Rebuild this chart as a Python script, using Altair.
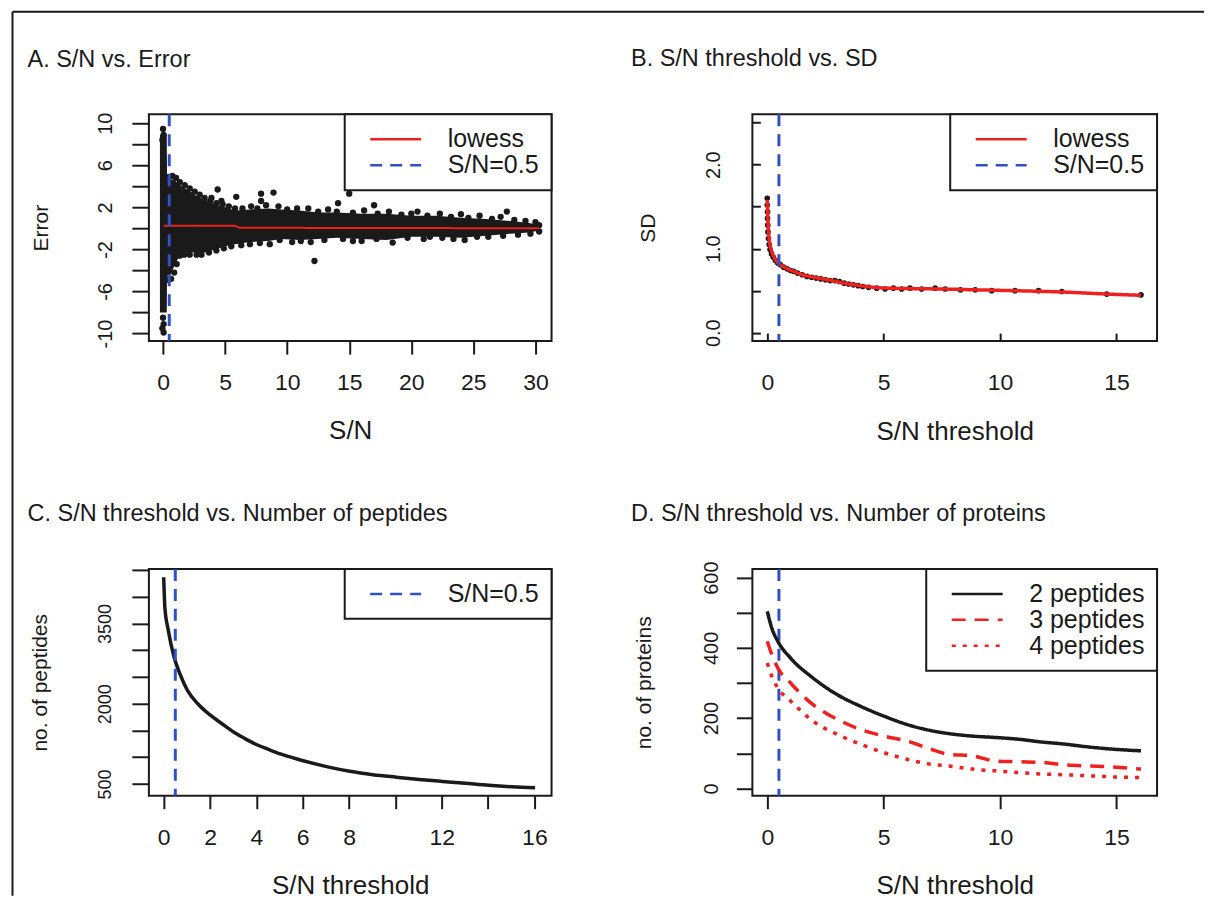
import altair as alt
import pandas as pd

# ---------------- values ----------------
SN_CUT = 0.5

# Panel A: S/N vs. Error  (dense core of the cloud as an envelope + individual dots)
A_CLOUD_X = [-0.25, 0.3, 0.32, 0.6, 0.9, 1.2, 1.6, 2.2, 2.8, 3.4, 4.2, 5.0, 5.8, 7.0, 8.5, 9.5,
             11.0, 12.5, 14.0, 16.0, 18.0, 20.0, 22.0, 24.0, 26.0, 28.0, 29.5, 30.3]
A_CLOUD_HI = [8.9, 8.9, 4.6, 4.7, 4.6, 4.3, 3.9, 3.5, 3.0, 2.7, 2.3, 2.0, 1.7, 1.8, 1.9, 1.8,
              1.7, 1.5, 1.5, 1.4, 1.4, 1.2, 1.2, 1.0, 0.9, 0.7, 0.5, 0.3]
A_CLOUD_LO = [-8.0, -8.0, -4.6, -4.4, -3.6, -2.9, -2.3, -2.3, -2.3, -2.3, -2.0, -1.7, -1.5, -1.3, -1.2, -1.0,
              -1.1, -1.0, -0.9, -1.0, -1.1, -0.8, -0.8, -0.9, -0.7, -0.5, -0.4, -0.2]
A_POINTS = [
    (0.0, 9.45), (0.05, 8.9), (-0.05, 8.4), (0.0, -8.5), (0.05, -9.1), (-0.05, -9.5), (0.05, -9.9),
    (0.45, 4.9), (0.75, 5.0), (1.05, 4.8), (1.35, 4.4), (1.75, 4.1), (2.15, 3.8), (2.55, 3.5),
    (2.95, 3.2), (3.35, 2.9), (3.8, 2.6), (4.3, 2.4), (4.8, 2.3), (5.3, 2.1), (5.8, 1.9), (6.4, 1.9),
    (7.1, 2.1), (7.6, 1.9), (8.3, 2.2), (9.3, 2.1), (10.0, 1.8), (10.8, 1.9), (11.7, 1.9), (12.5, 1.6),
    (13.3, 1.8), (14.0, 1.6), (15.3, 1.5), (16.2, 1.7), (17.3, 1.4), (18.2, 1.6), (19.2, 1.3),
    (20.0, 1.4), (21.3, 1.2), (22.3, 1.4), (23.2, 1.1), (24.6, 1.0), (25.5, 1.2), (26.5, 0.9),
    (27.2, 1.1), (28.3, 0.8), (29.2, 0.7), (30.0, 0.6), (30.3, 0.3),
    (3.9, 2.9), (4.4, 3.7), (4.7, 2.6), (5.9, 3.0), (7.9, 3.3), (7.9, 2.6), (8.9, 3.4),
    (14.1, 2.4), (15.0, 3.3), (17.0, 2.2), (20.5, 1.6), (24.0, 1.35), (27.7, 1.6),
    (0.4, -4.9), (0.65, -4.8), (0.9, -4.2), (1.1, -3.4), (1.35, -2.6), (1.7, -2.5), (2.15, -2.5),
    (2.7, -2.5), (3.1, -2.5), (3.7, -2.3), (4.3, -2.1), (4.9, -1.9), (5.5, -1.7), (6.3, -1.6),
    (7.0, -1.5), (7.8, -1.4), (8.6, -1.5), (9.4, -1.1), (10.4, -1.3), (11.1, -1.2), (11.9, -1.3),
    (13.0, -1.1), (14.5, -1.0), (15.3, -1.2), (16.0, -1.2), (17.2, -1.0), (18.5, -1.35),
    (19.7, -0.9), (21.0, -1.0), (21.5, -0.8), (22.5, -0.9), (23.4, -1.0), (24.3, -1.1),
    (25.3, -0.8), (26.2, -0.8), (27.4, -0.7), (28.6, -0.6), (29.6, -0.5), (30.3, -0.3),
    (12.2, -3.1),
]
A_LOWESS_X = [0.05, 2.0, 4.0, 5.8, 6.2, 10.0, 15.0, 20.0, 25.0, 30.3]
A_LOWESS_Y = [0.25, 0.25, 0.25, 0.24, 0.05, 0.05, 0.04, 0.03, 0.02, 0.0]

# Panel B: S/N threshold vs. SD
B_PTS_X = [0.0, 0.0, 0.01, 0.01, 0.02, 0.03, 0.05, 0.08, 0.12, 0.18, 0.25, 0.35, 0.45, 0.56, 0.7,
           0.85, 1.0, 1.13, 1.3, 1.5, 1.7, 1.9, 2.1, 2.3, 2.5, 2.7, 2.9, 3.1, 3.3, 3.5, 3.7, 3.9,
           4.1, 4.35, 4.7, 5.06, 5.42, 5.77, 6.13, 6.63, 7.21, 7.64, 8.3, 8.93, 9.64, 10.64,
           11.65, 12.65, 14.58, 16.05]
B_PTS_SD = [1.60, 1.52, 1.44, 1.36, 1.28, 1.20, 1.12, 1.05, 0.99, 0.94, 0.90, 0.86, 0.83, 0.81, 0.78,
            0.76, 0.74, 0.73, 0.71, 0.69, 0.67, 0.66, 0.65, 0.64, 0.63, 0.62, 0.62, 0.61, 0.59, 0.58,
            0.57, 0.56, 0.55, 0.54, 0.53, 0.52, 0.53, 0.52, 0.53, 0.52, 0.53, 0.52, 0.51, 0.51,
            0.50, 0.50, 0.50, 0.49, 0.46, 0.45]
B_LOW_X = [0.0, 0.02, 0.05, 0.1, 0.2, 0.35, 0.56, 0.8, 1.13, 1.5, 2.0, 2.6, 3.3, 4.0, 4.8, 6.0,
           7.5, 9.0, 10.6, 12.6, 14.6, 16.05]
B_LOW_SD = [1.58, 1.40, 1.22, 1.08, 0.96, 0.87, 0.81, 0.77, 0.73, 0.69, 0.66, 0.63, 0.59, 0.56,
            0.535, 0.525, 0.52, 0.51, 0.50, 0.485, 0.46, 0.445]

# Panel C: S/N threshold vs. number of peptides
C_X = [0.0, 0.05, 0.2, 0.45, 0.7, 1.03, 1.5, 2.0, 2.5, 3.03, 3.5, 3.95, 4.5, 5.03, 5.9, 7.03,
       8.03, 9.03, 10.03, 11.03, 12.03, 13.03, 14.03, 15.03, 16.03]
C_N = [4363, 3800, 3366, 2868, 2556, 2244, 1985, 1790, 1630, 1466, 1350, 1248, 1150, 1061, 949,
       824, 737, 674, 628, 586, 548, 512, 475, 447, 428]

# Panel D: S/N threshold vs. number of proteins
D_SERIES = ["2 peptides", "3 peptides", "4 peptides"]
D_X = [0.0, 0.2, 0.45, 1.0, 1.95, 3.0, 4.0, 5.0, 6.0, 7.0, 7.8, 8.8, 9.8, 10.8, 11.8, 12.8,
       13.8, 14.8, 16.05]
D_P2 = [504, 455, 419, 371, 315, 267, 234, 206, 182, 165, 156, 149, 145, 140, 132, 126, 118, 112, 107]
D_P3 = [419, 380, 343, 300, 239, 197, 168, 149, 135, 112, 97, 93, 78, 76, 74, 67, 64, 61, 55]
D_P4 = [357, 318, 286, 249, 192, 154, 126, 102, 83, 69, 64, 55, 50, 45, 41, 39, 36, 33, 31]

# axis ticks
A_XTICKS = [0, 5, 10, 15, 20, 25, 30]
A_YTICKS = [-10, -8, -6, -4, -2, 0, 2, 4, 6, 8, 10]
B_XTICKS = [0, 5, 10, 15]
B_YTICKS = [0, 0.5, 1.0, 1.5, 2.0, 2.5]
C_XTICKS = [0, 2, 4, 6, 8, 10, 12, 14, 16]
C_YTICKS = [500, 1000, 1500, 2000, 2500, 3000, 3500, 4000, 4500]
D_XTICKS = [0, 5, 10, 15]
D_YTICKS = [0, 100, 200, 300, 400, 500, 600]

# ---------------- styling ----------------
INK = "#1a1a1a"
RED = "#ee2020"
BLUE = "#3050c4"
FONT = "Liberation Sans"
W_L, W_R, H = 403, 405, 227


def x_axis(values, title, label_expr=None, tick=13, pad=35.5, offset=0, title_y=97.5):
    kw = dict(values=values, title=title, tickSize=tick, tickWidth=2, tickColor=INK,
              domain=False, grid=False, labelFont=FONT, labelFontSize=23, labelColor=INK,
              labelAngle=0, labelAlign="center", labelBaseline="alphabetic", labelPadding=pad,
              labelOverlap=False, labelFlush=False, titleFont=FONT, titleFontSize=26,
              titleFontWeight="normal", titleColor=INK, titleBaseline="alphabetic",
              titleY=title_y, offset=offset)
    if label_expr:
        kw["labelExpr"] = label_expr
    return alt.Axis(**kw)


def y_axis(values, title, label_expr=None, tick=17, pad=20, offset=0, title_x=-101.5, lsize=20):
    kw = dict(values=values, title=title, tickSize=tick, tickWidth=2, tickColor=INK,
              domain=False, grid=False, labelFont=FONT, labelFontSize=lsize, labelColor=INK,
              labelAngle=270, labelAlign="center", labelBaseline="alphabetic", labelPadding=pad,
              labelOverlap=False, labelFlush=False, titleFont=FONT, titleFontSize=21,
              titleFontWeight="normal", titleColor=INK, titleAngle=270,
              titleBaseline="alphabetic", titleX=title_x, offset=offset)
    if label_expr:
        kw["labelExpr"] = label_expr
    return alt.Axis(**kw)


def panel_title(text, offset):
    return alt.TitleParams(text=text, anchor="start", frame="group", dx=-121.5,
                           offset=offset, font=FONT, fontSize=23.5, fontWeight="normal",
                           color=INK, baseline="alphabetic")


LEG = alt.Legend(title=None)
DASH = [12, 8]

# ---------------- panel A ----------------
dfA_cloud = pd.DataFrame({"x": A_CLOUD_X, "lo": A_CLOUD_LO, "hi": A_CLOUD_HI})
dfA_pts = pd.DataFrame(A_POINTS, columns=["x", "y"])
dfA_low = pd.DataFrame({"x": A_LOWESS_X, "y": A_LOWESS_Y, "s": "lowess"})
dfA_cut = pd.DataFrame({"x": [SN_CUT], "s": ["S/N=0.5"]})
one = pd.DataFrame({"k": [0]})

XA = alt.X("x:Q", scale=alt.Scale(domain=[-1.14, 31.3], nice=False, zero=False), axis=x_axis(A_XTICKS, "S/N"))
YA_AX = y_axis(A_YTICKS, "Error", "(datum.value + 10) % 4 == 0 ? toString(datum.value) : ''",
               tick=17, pad=20, title_x=-101.5)
YA_SC = alt.Scale(domain=[-10.72, 10.85], nice=False, zero=False)
colA = alt.Color("s:N", scale=alt.Scale(domain=["lowess", "S/N=0.5"], range=[RED, BLUE]), legend=LEG)
dashA = alt.StrokeDash("s:N", scale=alt.Scale(domain=["lowess", "S/N=0.5"], range=[[1, 0], DASH]), legend=LEG)

A = alt.layer(
    alt.Chart(dfA_cloud).mark_area(color=INK, interpolate="linear").encode(
        x=XA, y=alt.Y("lo:Q", scale=YA_SC, axis=YA_AX), y2="hi:Q"),
    alt.Chart(dfA_pts).mark_circle(color=INK, size=40, opacity=1).encode(
        x=XA, y=alt.Y("y:Q", scale=YA_SC, axis=YA_AX)),
    alt.Chart(dfA_low).mark_line(strokeWidth=2).encode(
        x=XA, y=alt.Y("y:Q", scale=YA_SC, axis=YA_AX), color=colA, strokeDash=dashA),
    alt.Chart(dfA_cut).mark_rule(strokeWidth=3).encode(x=XA, color=colA, strokeDash=dashA),
    # outer frame of the figure (left and top edges)
    alt.Chart(one).mark_rule(color=INK, strokeWidth=2).encode(
        x=alt.value(-136.5), y=alt.value(-102.5), y2=alt.value(782)),
    alt.Chart(one).mark_rule(color=INK, strokeWidth=2).encode(
        x=alt.value(-136.5), x2=alt.value(1056), y=alt.value(-102.5)),
).properties(width=W_L, height=H, title=panel_title("A. S/N vs. Error", -80))

# ---------------- panel B ----------------
dfB_pts = pd.DataFrame({"x": B_PTS_X, "y": B_PTS_SD})
dfB_low = pd.DataFrame({"x": B_LOW_X, "y": B_LOW_SD, "s": "lowess"})
dfB_cut = pd.DataFrame({"x": [SN_CUT], "s": ["S/N=0.5"]})
XB = alt.X("x:Q", scale=alt.Scale(domain=[-0.64, 16.74], nice=False, zero=False),
           axis=x_axis(B_XTICKS, "S/N threshold", tick=8, pad=48.3, offset=-8, title_y=106))
YB_AX = y_axis(B_YTICKS, "SD", "datum.value % 1 == 0 ? format(datum.value, '.1f') : ''",
               tick=8, pad=33.4, offset=-8, title_x=-106.2)
YB_SC = alt.Scale(domain=[-0.1, 2.6], nice=False, zero=False)

B = alt.layer(
    alt.Chart(dfB_pts).mark_circle(color=INK, size=32, opacity=1).encode(
        x=XB, y=alt.Y("y:Q", scale=YB_SC, axis=YB_AX)),
    alt.Chart(dfB_low).mark_line(strokeWidth=3.5, interpolate="monotone").encode(
        x=XB, y=alt.Y("y:Q", scale=YB_SC, axis=YB_AX), color=colA, strokeDash=dashA),
    alt.Chart(dfB_cut).mark_rule(strokeWidth=3).encode(x=XB, color=colA, strokeDash=dashA),
).properties(width=W_R, height=H, title=panel_title("B. S/N threshold vs. SD", 23))

# ---------------- panel C ----------------
dfC = pd.DataFrame({"x": C_X, "y": C_N})
dfC_cut = pd.DataFrame({"x": [SN_CUT], "s": ["S/N=0.5"]})
XC = alt.X("x:Q", scale=alt.Scale(domain=[-0.64, 16.74], nice=False, zero=False),
           axis=x_axis(C_XTICKS, "S/N threshold", "datum.value == 10 || datum.value == 14 ? '' : datum.label"))
YC_AX = y_axis(C_YTICKS, "no. of peptides", "(datum.value - 500) % 1500 == 0 ? toString(datum.value) : ''",
               tick=17, pad=21, title_x=-102.8, lsize=18)
YC_SC = alt.Scale(domain=[281, 4519], nice=False, zero=False)
colC = alt.Color("s:N", scale=alt.Scale(domain=["S/N=0.5"], range=[BLUE]), legend=LEG)
dashC = alt.StrokeDash("s:N", scale=alt.Scale(domain=["S/N=0.5"], range=[DASH]), legend=LEG)

C = alt.layer(
    alt.Chart(dfC).mark_line(color=INK, strokeWidth=3.5, interpolate="monotone").encode(
        x=XC, y=alt.Y("y:Q", scale=YC_SC, axis=YC_AX)),
    alt.Chart(dfC_cut).mark_rule(strokeWidth=3).encode(x=XC, color=colC, strokeDash=dashC),
).properties(width=W_L, height=H, title=panel_title("C. S/N threshold vs. Number of peptides", 23))

# ---------------- panel D ----------------
dfD = pd.concat([
    pd.DataFrame({"x": D_X, "y": D_P2, "series": D_SERIES[0]}),
    pd.DataFrame({"x": D_X, "y": D_P3, "series": D_SERIES[1]}),
    pd.DataFrame({"x": D_X, "y": D_P4, "series": D_SERIES[2]}),
])
dfD_cut = pd.DataFrame({"x": [SN_CUT]})
XD = alt.X("x:Q", scale=alt.Scale(domain=[-0.64, 16.74], nice=False, zero=False),
           axis=x_axis(D_XTICKS, "S/N threshold"))
YD_AX = y_axis(D_YTICKS, "no. of proteins", "datum.value % 200 == 0 ? datum.label : ''",
               tick=16, pad=19, title_x=-101.7)
YD_SC = alt.Scale(domain=[-20.7, 624.7], nice=False, zero=False)

D = alt.layer(
    alt.Chart(dfD_cut).mark_rule(strokeWidth=3, color=BLUE, strokeDash=DASH).encode(x=XD),
    alt.Chart(dfD).mark_line(strokeWidth=3.5, interpolate="monotone").encode(
        x=XD, y=alt.Y("y:Q", scale=YD_SC, axis=YD_AX),
        color=alt.Color("series:N", scale=alt.Scale(domain=D_SERIES, range=[INK, RED, RED]), legend=LEG),
        strokeDash=alt.StrokeDash("series:N", scale=alt.Scale(domain=D_SERIES, range=[[1, 0], [14, 9], [4, 7]]),
                                  legend=LEG)),
).properties(width=W_R, height=H, title=panel_title("D. S/N threshold vs. Number of proteins", 16))

chart = alt.concat(
    A, B, C, D, columns=2, spacing={"row": 228, "column": 201}, bounds="flush"
).resolve_scale(
    color="independent", strokeDash="independent"
).resolve_legend(
    color="independent", strokeDash="independent"
).properties(
    padding={"left": 2, "top": 1, "right": 0, "bottom": 0}, background="white"
).configure_view(
    stroke=INK, strokeWidth=2
).configure_legend(
    orient="top-right", offset=0, padding=12, strokeColor=INK, strokeWidth=2, fillColor="white",
    symbolType="stroke", symbolSize=2600, symbolStrokeWidth=2.5, symbolOffset=12, labelOffset=25,
    clipHeight=26, labelFont=FONT, labelFontSize=25, labelColor=INK, rowPadding=0, labelLimit=400
)

chart.save("out.html", embed_options={"renderer": "svg", "actions": False})
